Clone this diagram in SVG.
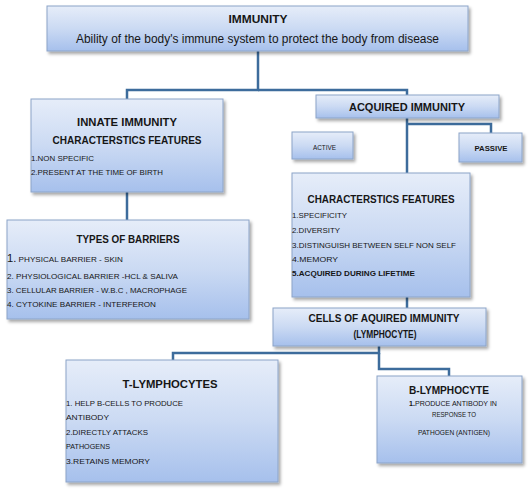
<svg xmlns="http://www.w3.org/2000/svg" width="532" height="494" viewBox="0 0 532 494">
<defs>
<linearGradient id="g" x1="0" y1="0" x2="0" y2="1">
<stop offset="0" stop-color="#e6edf9"/>
<stop offset="0.5" stop-color="#cbdaf3"/>
<stop offset="1" stop-color="#a6c0ec"/>
</linearGradient>
<filter id="sh" x="-10%" y="-10%" width="130%" height="140%">
<feDropShadow dx="2" dy="2.5" stdDeviation="1.5" flood-color="#000" flood-opacity="0.35"/>
</filter>
</defs>
<style>
.box{fill:url(#g);stroke:#8ca4c8;stroke-width:1;filter:url(#sh)}
.conn{fill:none;stroke:#3d6c9c;stroke-width:2.5}
text{font-family:"Liberation Sans",Arial,sans-serif;fill:#161616}
.h{font-size:11.5px;font-weight:bold;text-anchor:middle}
.s{font-size:7.6px}
.m{text-anchor:middle}
.b{font-weight:bold}
</style>
<rect width="532" height="494" fill="#ffffff"/>
<g id="connectors">
<polyline class="conn" points="258,51 258,90 127,90 127,99"/>
<polyline class="conn" points="258,90 407,90 407,95"/>
<polyline class="conn" points="127,192 127,220"/>
<polyline class="conn" points="407,118 407,173"/>
<polyline class="conn" points="407,124 491,124 491,133"/>
<polyline class="conn" points="407,297 407,308"/>
<polyline class="conn" points="379,346 379,353 173,353 173,360"/>
<polyline class="conn" points="379,353 379,369 449,369 449,376"/>
</g>
<g id="immunity">
<rect class="box" x="47" y="6" width="421" height="45"/>
<text class="h" x="258" y="23" textLength="59" lengthAdjust="spacingAndGlyphs">IMMUNITY</text>
<text x="257.5" y="43" font-size="12.5" text-anchor="middle" textLength="363" lengthAdjust="spacingAndGlyphs">Ability of the body's  immune system to protect the body from disease</text>
</g>
<g id="innate">
<rect class="box" x="31" y="99" width="192" height="93"/>
<text class="h" x="127" y="126" textLength="100" lengthAdjust="spacingAndGlyphs">INNATE IMMUNITY</text>
<text class="h" x="127" y="144" textLength="149" lengthAdjust="spacingAndGlyphs">CHARACTERSTICS FEATURES</text>
<text class="s" x="31" y="161" textLength="63" lengthAdjust="spacingAndGlyphs">1.NON SPECIFIC</text>
<text class="s" x="31" y="175" textLength="132" lengthAdjust="spacingAndGlyphs">2.PRESENT AT THE TIME OF BIRTH</text>
</g>
<g id="acquired">
<rect class="box" x="316" y="95" width="183" height="23"/>
<text class="h" x="407" y="111" textLength="116" lengthAdjust="spacingAndGlyphs">ACQUIRED IMMUNITY</text>
</g>
<g id="active">
<rect class="box" x="292" y="132" width="61" height="27"/>
<text class="s m" x="324.5" y="150" textLength="23" lengthAdjust="spacingAndGlyphs">ACTIVE</text>
</g>
<g id="passive">
<rect class="box" x="459" y="133" width="63" height="29"/>
<text class="s m b" x="491" y="151" textLength="33" lengthAdjust="spacingAndGlyphs">PASSIVE</text>
</g>
<g id="barriers">
<rect class="box" x="7" y="220" width="242" height="99"/>
<text class="h" x="128" y="243" textLength="103" lengthAdjust="spacingAndGlyphs">TYPES OF BARRIERS</text>
<text class="s" x="7" y="262" textLength="116" lengthAdjust="spacingAndGlyphs"><tspan font-size="10.5">1.</tspan> PHYSICAL BARRIER -   SKIN</text>
<text class="s" x="7" y="279" textLength="171" lengthAdjust="spacingAndGlyphs">2. PHYSIOLOGICAL BARRIER  -HCL &amp; SALIVA</text>
<text class="s" x="7" y="293" textLength="180" lengthAdjust="spacingAndGlyphs">3. CELLULAR BARRIER -  W.B.C , MACROPHAGE</text>
<text class="s" x="7" y="307" textLength="149" lengthAdjust="spacingAndGlyphs">4. CYTOKINE BARRIER - INTERFERON</text>
</g>
<g id="characteristics">
<rect class="box" x="292" y="173" width="178" height="124"/>
<text class="h" x="381" y="203" textLength="147" lengthAdjust="spacingAndGlyphs">CHARACTERSTICS FEATURES</text>
<text class="s" x="292" y="218" textLength="55" lengthAdjust="spacingAndGlyphs">1.SPECIFICITY</text>
<text class="s" x="292" y="233" textLength="48" lengthAdjust="spacingAndGlyphs">2.DIVERSITY</text>
<text class="s" x="292" y="248" textLength="164" lengthAdjust="spacingAndGlyphs">3.DISTINGUISH BETWEEN SELF NON SELF</text>
<text class="s" x="292" y="262" textLength="46" lengthAdjust="spacingAndGlyphs">4.MEMORY</text>
<text class="s b" x="292" y="276" textLength="123" lengthAdjust="spacingAndGlyphs">5.ACQUIRED DURING LIFETIME</text>
</g>
<g id="cells">
<rect class="box" x="273" y="308" width="213" height="38"/>
<text class="h" x="384" y="322" font-size="11" textLength="151" lengthAdjust="spacingAndGlyphs">CELLS OF AQUIRED IMMUNITY</text>
<text class="h" x="385" y="338" font-size="11" textLength="63" lengthAdjust="spacingAndGlyphs">(LYMPHOCYTE)</text>
</g>
<g id="tlymph">
<rect class="box" x="66" y="360" width="212" height="122"/>
<text class="h" x="170" y="388" textLength="95" lengthAdjust="spacingAndGlyphs">T-LYMPHOCYTES</text>
<text class="s" x="66" y="406" textLength="117" lengthAdjust="spacingAndGlyphs">1. HELP B-CELLS TO PRODUCE</text>
<text class="s" x="66" y="420" textLength="43" lengthAdjust="spacingAndGlyphs">ANTIBODY</text>
<text class="s" x="66" y="435" textLength="82" lengthAdjust="spacingAndGlyphs">2.DIRECTLY ATTACKS</text>
<text class="s" x="66" y="449" textLength="44" lengthAdjust="spacingAndGlyphs">PATHOGENS</text>
<text class="s" x="66" y="464" textLength="84" lengthAdjust="spacingAndGlyphs">3.RETAINS  MEMORY</text>
</g>
<g id="blymph">
<rect class="box" x="377" y="376" width="145" height="87"/>
<text class="h" x="449" y="394" textLength="80" lengthAdjust="spacingAndGlyphs">B-LYMPHOCYTE</text>
<text class="s m" x="453" y="406" textLength="88" lengthAdjust="spacingAndGlyphs"><tspan font-weight="bold">1.</tspan>PRODUCE ANTIBODY IN</text>
<text class="s m" x="454" y="417" textLength="44" lengthAdjust="spacingAndGlyphs">RESPONSE TO</text>
<text class="s m" x="454" y="435" textLength="72" lengthAdjust="spacingAndGlyphs">PATHOGEN (ANTIGEN)</text>
</g>
</svg>
